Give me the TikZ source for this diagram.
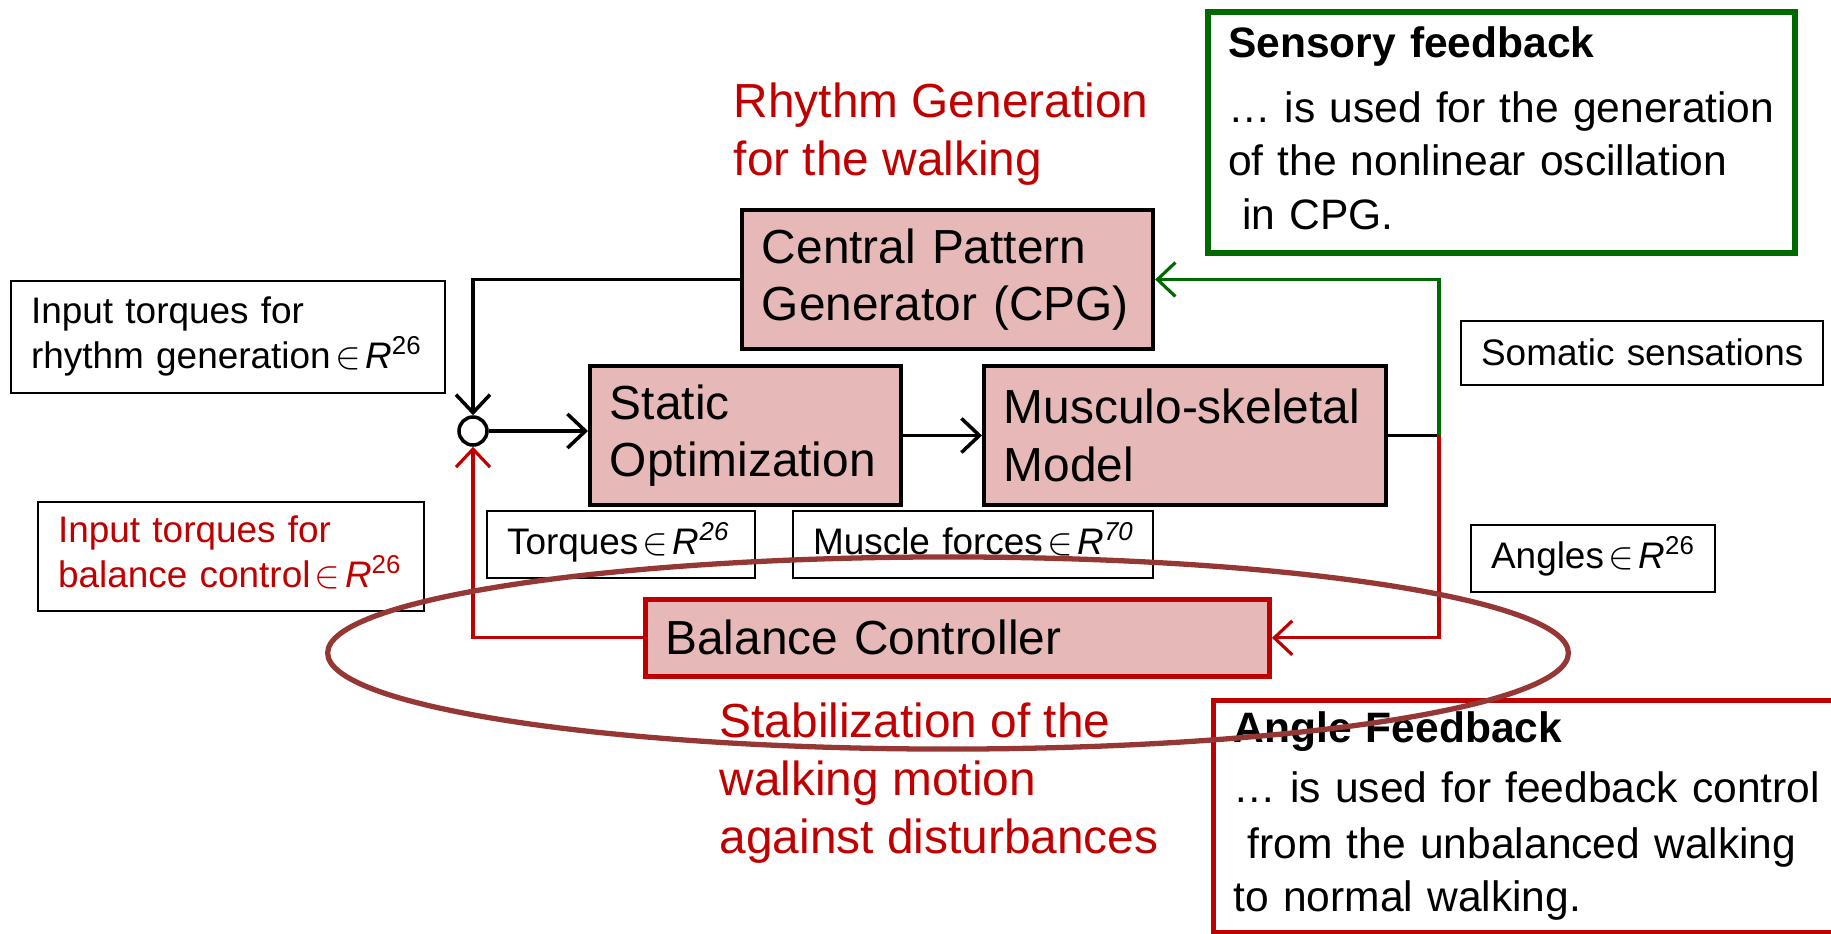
\documentclass[tikz,border=0pt]{standalone}
\usepackage{fontspec}
\setmainfont{Liberation Sans}
\usetikzlibrary{arrows.meta}

\definecolor{boxpink}{HTML}{E6B9B8}
\definecolor{darkred}{HTML}{C00000}
\definecolor{ringred}{HTML}{953735}
\definecolor{fbgreen}{HTML}{006A00}

\newcommand{\bigtxt}{\fontsize{13.6}{16.4}\selectfont}
\newcommand{\smalltxt}{\fontsize{10.5}{12.2}\selectfont}
\newcommand{\notetxt}{\fontsize{12.1}{15.2}\selectfont}
\newcommand{\inR}[1]{\hspace{0.12em}$\in$\hspace{0.12em}\textit{R}\textsuperscript{#1}}
% lines that must not wrap
\newcommand{\rows}[1]{\begin{tabular}{@{}l@{}}#1\end{tabular}}

\tikzset{
  blk/.style={draw=black, line width=1.1pt, fill=boxpink, anchor=north west, inner xsep=0.2cm, inner ysep=0pt, align=left, font=\bigtxt},
  lbl/.style={draw=black, line width=0.6pt, anchor=north west, inner xsep=0.2cm, inner ysep=0pt, align=left, font=\smalltxt},
  note/.style={anchor=north west, inner xsep=0.2cm, inner ysep=0pt, align=left, font=\notetxt},
  redtxt/.style={text=darkred, anchor=west, inner sep=0pt, align=left, font=\bigtxt},
  wire/.style={line width=1pt},
  fbwire/.style={line width=0.9pt},
}

\begin{document}
\begin{tikzpicture}[x=0.01cm, y=-0.01cm, >={Straight Barb[length=1.8mm,width=3.4mm]}]
		\clip (0,0) rectangle (1831,933);
		\useasboundingbox (0,0) rectangle (1831,933);
		
		% notes
		\node[note, draw=fbgreen, line width=1.7pt, minimum width=5.87cm, minimum height=2.41cm, text width=5.47cm] (sensnote) at (1205,9)
			{\rows{\textbf{Sensory feedback}\\[0.12cm]… is used for the generation\\of the nonlinear oscillation\\\ in CPG.}};
		\node[note, draw=darkred, line width=1.4pt, minimum width=6.6cm, minimum height=2.32cm, text width=6.2cm] (anglenote) at (1211,698)
			{\rows{\textbf{Angle Feedback}\\[0.06cm]… is used for feedback control\\[0.03cm]\ from the unbalanced walking\\to normal walking.}};
		
		\node[redtxt] (rhythm) at (733,134) {Rhythm Generation\\for the walking};
		\node[redtxt] (stabil) at (719,783) {Stabilization of the\\walking motion\\against disturbances};
		
		% blocks
		\node[blk, minimum width=4.11cm, minimum height=1.39cm, text width=3.71cm] (cpg) at (740,208) {Central Pattern\\Generator (CPG)};
		\node[blk, minimum width=3.11cm, minimum height=1.39cm, text width=2.71cm] (stat) at (588,364) {Static\\Optimization};
		\node[blk, minimum width=4.02cm, minimum height=1.39cm, text width=3.62cm] (musc) at (982,364) {Musculo-skeletal\\Model};
		\node[blk, draw=darkred, line width=1.3pt, minimum width=6.24cm, minimum height=0.77cm, text width=5.84cm] (bal) at (643,597) {Balance Controller};
		\node[draw, circle, line width=1pt, minimum size=0.28cm, inner sep=0pt] (sum) at (473,431) {};
		
		% signal labels
		\node[lbl, minimum width=4.34cm, minimum height=1.12cm, text width=3.94cm] (rhythmin) at (10,280) {\rows{Input torques for\\rhythm generation\inR{26}}};
		\node[lbl, text=darkred, minimum width=3.86cm, minimum height=1.09cm, text width=3.46cm] (balin) at (37,501) {\rows{Input torques for\\balance control\inR{26}}};
		\node[lbl, minimum width=2.68cm, minimum height=0.67cm, text width=2.28cm] (torq) at (486,510) {\rows{Torques\hspace{0.12em}$\in$\hspace{0.12em}\textit{R\textsuperscript{26}}}};
		\node[lbl, minimum width=3.60cm, minimum height=0.67cm, text width=3.20cm] (force) at (792,510) {\rows{Muscle forces\hspace{0.12em}$\in$\hspace{0.12em}\textit{R\textsuperscript{70}}}};
		\node[lbl, minimum width=2.44cm, minimum height=0.67cm, text width=2.04cm] (angl) at (1470,524) {\rows{Angles\inR{26}}};
		\node[lbl, minimum width=3.62cm, minimum height=0.64cm, text width=3.22cm] (soma) at (1460,320) {\rows{\raisebox{-0.04cm}{Somatic sensations}}};
		
		% connectors
		\coordinate (split) at (musc.east -| 1439,0);
		\draw[wire, ->] (cpg.west) -| (sum.north);
		\draw[wire, ->] (sum.east) -- (sum.east -| stat.west);
		\draw[wire, ->] (stat.east) -- (musc.west);
		\draw[wire] (musc.east) -- (split);
		\draw[fbwire, fbgreen, ->] (split) |- (cpg.east);
		\draw[fbwire, darkred, ->] (split) |- (bal.east);
		\draw[fbwire, darkred, ->] (bal.west) -| (sum.south);
		
		\draw[ringred, line width=1.5pt] (948,653) ellipse [x radius=6.2cm, y radius=0.96cm];
	\end{tikzpicture}
\end{document}
